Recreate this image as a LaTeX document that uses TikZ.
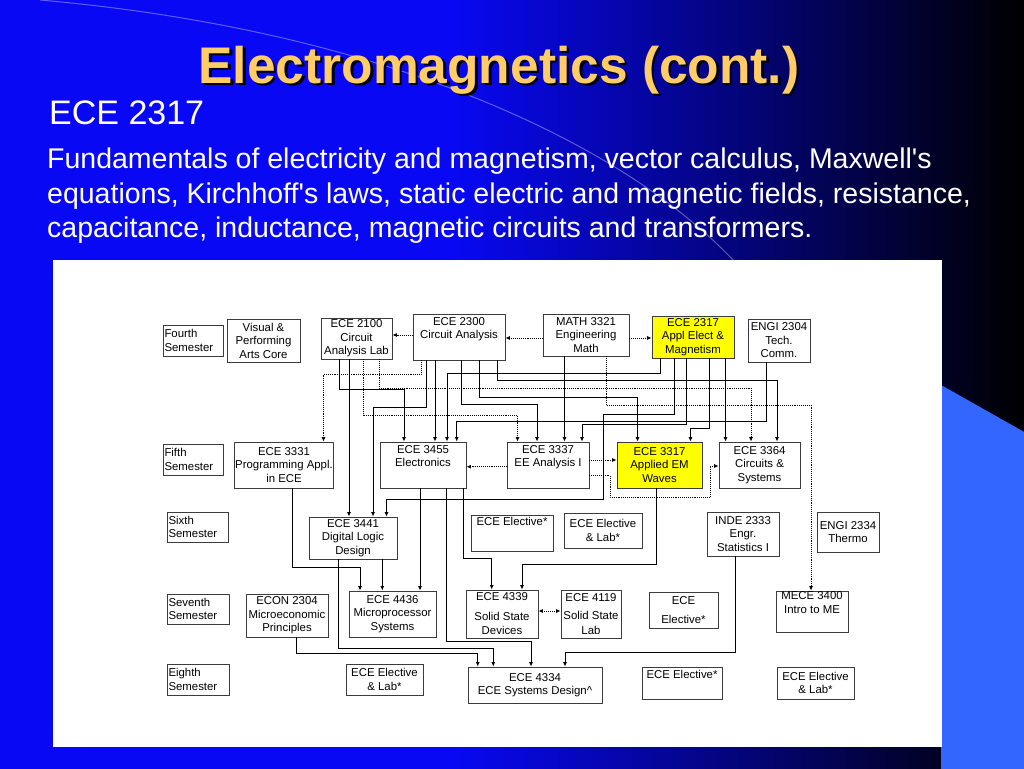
\documentclass[tikz,border=0pt]{standalone}
\usepackage{fontspec}
\setmainfont{Liberation Sans}
\usetikzlibrary{arrows.meta}
\definecolor{slideblue}{RGB}{8,8,245}
\definecolor{slidenavy}{RGB}{0,0,110}
\definecolor{titlegold}{RGB}{255,204,102}
\definecolor{accentblue}{RGB}{51,102,255}
\definecolor{boxyellow}{RGB}{255,255,0}
\definecolor{boxline}{RGB}{60,60,60}
\tikzset{
  course/.style={draw=boxline, line width=0.8pt, fill=white, align=center, inner sep=1pt, font=\fontsize{11.4}{13.5}\selectfont},
  emcourse/.style={course, fill=boxyellow},
  semester/.style={draw=boxline, line width=0.8pt, fill=white, align=left, inner xsep=1.5pt, inner ysep=1pt, font=\fontsize{11.4}{13.5}\selectfont},
  arr/.style={line width=0.9pt, -{Latex[length=4.5pt,width=4pt]}},
  dotlink/.style={line width=0.9pt, densely dotted},
}
\begin{document}
\begin{tikzpicture}[x=1pt, y=-1pt]
	  \useasboundingbox (0,0) rectangle (1024,768);
	  % 背景
	  \fill[black] (-2,-2) rectangle (1026,770);
	  \fill[slideblue] (-2,-2) rectangle (450,770);
	  \shade[left color=slideblue, middle color=slidenavy, right color=black] (449,-2) rectangle (1026,770);
	  \draw[white, opacity=0.35, line width=1pt] (40,0) .. controls (380,30) and (620,140) .. (735,262);
	  \fill[accentblue] (941,385) -- (1026,433) -- (1026,770) -- (941,770) -- cycle;
	  \fill[white] (53,260) rectangle (942,747);
	  % 标题
	  \node[font=\fontsize{51.5}{51.5}\bfseries\selectfont, anchor=base] (title) at (499,83)
	    {\rlap{\raisebox{-2.5pt}{\kern2.5pt\textcolor{black}{Electromagnetics (cont.)}}}\textcolor{titlegold}{Electromagnetics (cont.)}};
	  \node[font=\fontsize{34}{34}\selectfont, text=white, anchor=base west, inner sep=0pt] (coursename) at (49,124) {ECE 2317};
	  \node[font=\fontsize{28.5}{28.5}\selectfont, text=white, anchor=base west, inner sep=0pt] (desc1) at (47,168.5) {Fundamentals of electricity and magnetism, vector calculus, Maxwell\textquotesingle s};
	  \node[font=\fontsize{28.5}{28.5}\selectfont, text=white, anchor=base west, inner sep=0pt] (desc2) at (47,203) {equations, Kirchhoff\textquotesingle s laws, static electric and magnetic fields, resistance,};
	  \node[font=\fontsize{28.5}{28.5}\selectfont, text=white, anchor=base west, inner sep=0pt] (desc3) at (47,237.5) {capacitance, inductance, magnetic circuits and transformers.};
	  % 第四学期
	  \node[semester, text width=57, minimum height=31] (sem4) at (193,340.5) {Fourth\\Semester};
	  \node[course, minimum width=73, minimum height=43] (arts) at (263.5,340.5) {Visual \&\\Performing\\Arts Core};
	  \node[course, minimum width=71, minimum height=41] (ece2100) at (356.5,338.5) {ECE 2100\\Circuit\\Analysis Lab};
	  \node[course, minimum width=92, minimum height=46] (ece2300) at (459,337) {ECE 2300\\Circuit Analysis\\\strut};
	  \node[course, minimum width=86, minimum height=42] (math3321) at (586,335) {MATH 3321\\Engineering\\Math};
	  \node[emcourse, minimum width=82, minimum height=42] (ece2317) at (693,337) {ECE 2317\\Appl Elect \&\\Magnetism};
	  \node[course, minimum width=62, minimum height=43] (engi2304) at (779,340.5) {ENGI 2304\\Tech.\\Comm.};
	  % 第五学期
	  \node[semester, text width=57, minimum height=31] (sem5) at (193,459.5) {Fifth\\Semester};
	  \node[course, minimum width=96, minimum height=46] (ece3331) at (284,465) {ECE 3331\\Programming Appl.\\in ECE};
	  \node[course, minimum width=86, minimum height=46] (ece3455) at (423,465) {ECE 3455\\Electronics\\\strut};
	  \node[course, minimum width=82, minimum height=46] (ece3337) at (548,465) {ECE 3337\\EE Analysis I\\\strut};
	  \node[emcourse, minimum width=85, minimum height=46] (ece3317) at (659.5,465) {ECE 3317\\Applied EM\\Waves};
	  \node[course, minimum width=81, minimum height=46] (ece3364) at (759.5,465) {ECE 3364\\Circuits \&\\Systems};
	  % 第六学期
	  \node[semester, text width=58, minimum height=30] (sem6) at (197.5,527) {Sixth\\Semester};
	  \node[course, minimum width=88, minimum height=42] (ece3441) at (353,538) {ECE 3441\\Digital Logic\\Design};
	  \node[course, minimum width=82, minimum height=36] (elecA) at (512,533) {ECE Elective*\\[6pt]\strut};
	  \node[course, minimum width=78, minimum height=35] (eleclabA) at (603,530.5) {ECE Elective\\\& Lab*};
	  \node[course, minimum width=72, minimum height=44] (inde2333) at (743,534) {INDE 2333\\Engr.\\Statistics I};
	  \node[course, minimum width=62, minimum height=40] (engi2334) at (848,532) {ENGI 2334\\Thermo};
	  % 第七学期
	  \node[semester, text width=59, minimum height=30] (sem7) at (198,609) {Seventh\\Semester};
	  \node[course, minimum width=82, minimum height=43] (econ2304) at (287,615.5) {ECON 2304\\Microeconomic\\Principles};
	  \node[course, minimum width=87, minimum height=46] (ece4436) at (392.5,614) {ECE 4436\\Microprocessor\\Systems};
	  \node[course, minimum width=72, minimum height=48] (ece4339) at (502,614) {ECE 4339\\[6pt]Solid State\\[1pt]Devices};
	  \node[course, minimum width=60, minimum height=48] (ece4119) at (591,614) {ECE 4119\\[5pt]Solid State\\[1pt]Lab};
	  \node[course, minimum width=69, minimum height=36] (elecB) at (683.5,610) {ECE\\[5pt]Elective*};
	  \node[course, minimum width=72, minimum height=41] (mece3400) at (812,611.5) {MECE 3400\\Intro to ME\\\strut};
	  % 第八学期
	  \node[semester, text width=59, minimum height=31] (sem8) at (198,679.5) {Eighth\\Semester};
	  \node[course, minimum width=77, minimum height=31] (eleclabB) at (384.5,679.5) {ECE Elective\\\& Lab*};
	  \node[course, minimum width=134, minimum height=36] (ece4334) at (535,685) {ECE 4334\\ECE Systems Design\textasciicircum};
	  \node[course, minimum width=80, minimum height=32] (elecC) at (682,683) {ECE Elective*\\\strut};
	  \node[course, minimum width=77, minimum height=32] (eleclabC) at (815.5,683) {ECE Elective\\\& Lab*};
	  % 同学期虚线
	  \draw[dotlink, arr] (math3321.west |- 0,338) -- (ece2300.east |- 0,338);
	  \draw[dotlink, arr] (ece2300.west |- 0,335) -- (ece2100.east |- 0,335);
	  \draw[dotlink, arr] (math3321.east |- 0,338) -- (ece2317.west |- 0,338);
	  \draw[dotlink, arr] (ece3337.west |- 0,466.7) -- (ece3455.east |- 0,466.7);
	  \draw[dotlink, arr] (ece3337.east |- 0,460) -- (ece3317.west |- 0,460);
	  \draw[dotlink, arr] (ece3337.east |- 0,475.7) -| (610,497) -| (710,466) -- (ece3364.west |- 0,466);
	  \draw[dotlink, {Latex[length=4.5pt,width=4pt]}-{Latex[length=4.5pt,width=4pt]}] (ece4339.east |- 0,611) -- (ece4119.west |- 0,611);
	  % ECE 2100
	  \draw[arr] (ece2100.south -| 339,0) |- (404,389) -- (ece3455.north -| 404,0);
	  \draw[arr] (ece2100.south -| 349,0) -- (ece3441.north -| 349,0);
	  \draw[dotlink, arr] (ece2100.south -| 363,0) |- (517.5,415.5) -- (ece3337.north -| 517.5,0);
	  \draw[dotlink, arr] (ece2100.south -| 379,0) |- (751,388) -- (ece3364.north -| 751,0);
	  % ECE 2300
	  \draw[dotlink, arr] (ece2300.south -| 421.5,0) |- (323.5,374) -- (ece3331.north -| 323.5,0);
	  \draw[arr] (ece2300.south -| 426.5,0) |- (373,407.5) -- (ece3441.north -| 373,0);
	  \draw[arr] (ece2300.south -| 435,0) -- (ece3455.north -| 435,0);
	  \draw[arr] (ece2300.south -| 461,0) |- (537,404.5) -- (ece3337.north -| 537,0);
	  \draw[arr] (ece2300.south -| 479,0) |- (637.5,397.5) -- (ece3317.north -| 637.5,0);
	  \draw[arr] (ece2300.south -| 497,0) |- (777,380) -- (ece3364.north -| 777,0);
	  % MATH 3321
	  \draw[arr] (math3321.south -| 564.5,0) -- (ece3337.north -| 564.5,0);
	  \draw[dotlink, arr] (math3321.south -| 606.5,0) |- (811,405) -- (mece3400.north -| 811,0);
	  % ECE 2317
	  \draw[arr] (ece2317.south -| 660.5,0) |- (447,373) -- (ece3455.north -| 447,0);
	  \draw[arr] (ece2317.south -| 674,0) |- (603.3,414.5) |- (386.5,499) -- (ece3441.north -| 386.5,0);
	  \draw[arr] (ece2317.south -| 686,0) |- (582,424.3) -- (ece3337.north -| 582,0);
	  \draw[arr] (ece2317.south -| 709.3,0) |- (690.5,428) -- (ece3317.north -| 690.5,0);
	  \draw[arr] (ece2317.south -| 725.5,0) -- (ece3364.north -| 725.5,0);
	  % ENGI 2304
	  \draw[arr] (engi2304.south -| 766,0) |- (456.7,421) -- (ece3455.north -| 456.7,0);
	  % 第五学期以后
	  \draw[arr] (ece3331.south -| 292,0) |- (360,567.7) -- (ece4436.north -| 360,0);
	  \draw[arr] (ece3441.south -| 382.3,0) -- (ece4436.north -| 382.3,0);
	  \draw[arr] (ece3455.south -| 420,0) -- (ece4436.north -| 420,0);
	  \draw[arr] (ece3455.south -| 446.7,0) |- (531,641.7) -- (ece4334.north -| 531,0);
	  \draw[arr] (ece3455.south -| 463.3,0) |- (491.7,558.5) -- (ece4339.north -| 491.7,0);
	  \draw[arr] (ece3317.south -| 656.5,0) |- (522,564.3) -- (ece4339.north -| 522,0);
	  \draw[arr] (ece3441.south -| 338,0) |- (493.3,648) -- (ece4334.north -| 493.3,0);
	  \draw[arr] (econ2304.south -| 296.5,0) |- (477.7,653.7) -- (ece4334.north -| 477.7,0);
	  \draw[arr] (inde2333.south -| 735,0) |- (565,652.3) -- (ece4334.north -| 565,0);
	\end{tikzpicture}
\end{document}
